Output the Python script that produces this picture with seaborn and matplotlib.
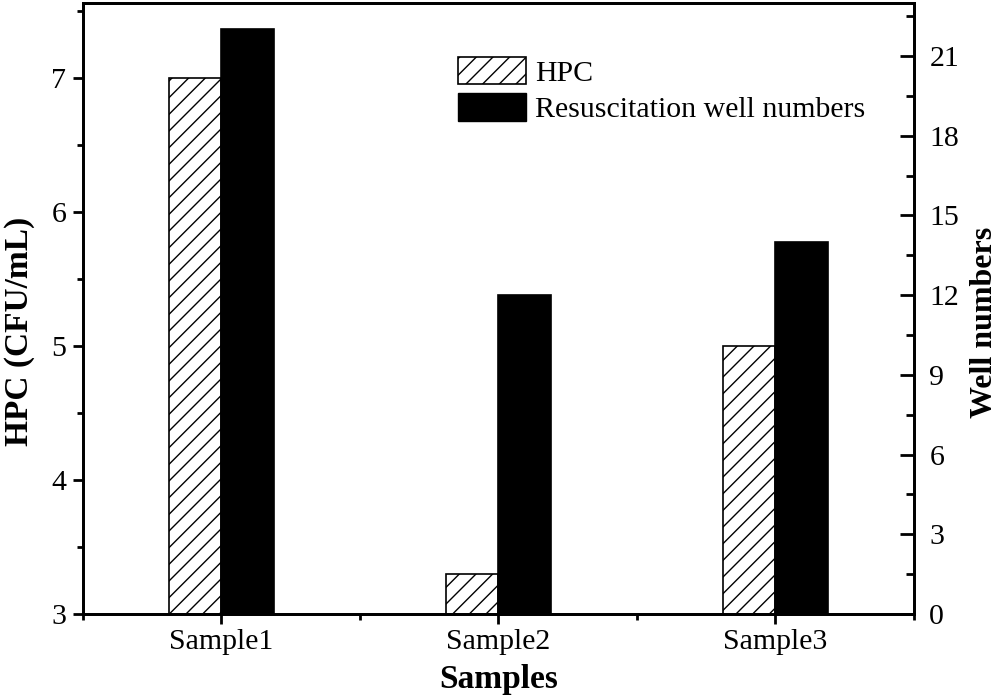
import matplotlib
matplotlib.use("Agg")
import matplotlib.pyplot as plt
import seaborn as sns
import pandas as pd
from matplotlib.patches import Patch
from matplotlib.ticker import MultipleLocator

samples = ["Sample1", "Sample2", "Sample3"]
hpc_values = [7.0, 3.3, 5.0]
well_values = [22, 12, 14]
series_names = ["HPC", "Resuscitation well numbers"]

sns.set_theme(style="ticks")
plt.rcParams["font.family"] = ["Liberation Serif", "DejaVu Serif"]
plt.rcParams["hatch.linewidth"] = 1.0
plt.rcParams["text.color"] = "black"
plt.rcParams["axes.labelcolor"] = "black"
plt.rcParams["xtick.color"] = "black"
plt.rcParams["ytick.color"] = "black"

df_hpc = pd.DataFrame({"Samples": samples, "value": hpc_values, "series": series_names[0]})
df_well = pd.DataFrame({"Samples": samples, "value": well_values, "series": series_names[1]})

fig = plt.figure(figsize=(10, 6.96), dpi=100)
ax = fig.add_axes([0.083, 0.1178, 0.831, 0.878])
ax2 = ax.twinx()

pal = {series_names[0]: "white", series_names[1]: "black"}
sns.barplot(data=df_hpc, x="Samples", y="value", hue="series", hue_order=series_names,
            palette=pal, width=0.38, dodge=True, ax=ax, legend=False,
            edgecolor="black", linewidth=1.2, order=samples)
for p in ax.patches:
    p.set_hatch("//")
    p.set_facecolor("white")
    p.set_edgecolor("black")

sns.barplot(data=df_well, x="Samples", y="value", hue="series", hue_order=series_names,
            palette=pal, width=0.38, dodge=True, ax=ax2, legend=False,
            edgecolor="black", linewidth=1.2, order=samples)

ax.set_xlim(-0.5, 2.5)
ax.set_ylim(3, 7.56)
ax2.set_ylim(0, 23)

ax.yaxis.set_major_locator(MultipleLocator(1))
ax.yaxis.set_minor_locator(MultipleLocator(0.5))
ax2.yaxis.set_major_locator(MultipleLocator(3))
ax2.yaxis.set_minor_locator(MultipleLocator(1.5))
ax.xaxis.set_minor_locator(MultipleLocator(0.5))

fs = 21.5
ax.tick_params(axis="y", which="major", direction="out", length=7, width=2, labelsize=fs, left=True, right=False, pad=5)
ax.tick_params(axis="y", which="minor", direction="out", length=4, width=2, left=True, right=False)
ax.tick_params(axis="x", which="major", direction="out", length=7, width=2, labelsize=fs, bottom=True, top=False, pad=4)
ax.tick_params(axis="x", which="minor", direction="out", length=4, width=2, bottom=True, top=False)
ax2.tick_params(axis="y", which="major", direction="in", length=10, width=2, labelsize=fs, right=True, left=False, pad=11)
ax2.tick_params(axis="y", which="minor", direction="in", length=6, width=2, right=True, left=False)

for a in (ax, ax2):
    for s in a.spines.values():
        s.set_linewidth(2)
        s.set_color("black")
        s.set_visible(True)

ax.set_xlabel("Samples", fontsize=24, fontweight="bold", labelpad=6)
ax.set_ylabel("HPC (CFU/mL)", fontsize=24, fontweight="bold", labelpad=12)
ax2.set_ylabel("Well numbers", fontsize=23, fontweight="bold", labelpad=8)
ax.yaxis.label.set_y(0.463)
ax2.yaxis.label.set_y(0.478)

handles = [Patch(facecolor="white", edgecolor="black", hatch="//", linewidth=1.2, label=series_names[0]),
           Patch(facecolor="black", edgecolor="black", label=series_names[1])]
ax2.legend(handles=handles, loc="upper left", bbox_to_anchor=(0.451, 0.912), frameon=False,
           fontsize=fs, handlelength=2.27, handleheight=1.05, handletextpad=0.33, labelspacing=0.22,
           borderaxespad=0, borderpad=0)

fig.savefig("out.png", dpi=100)
